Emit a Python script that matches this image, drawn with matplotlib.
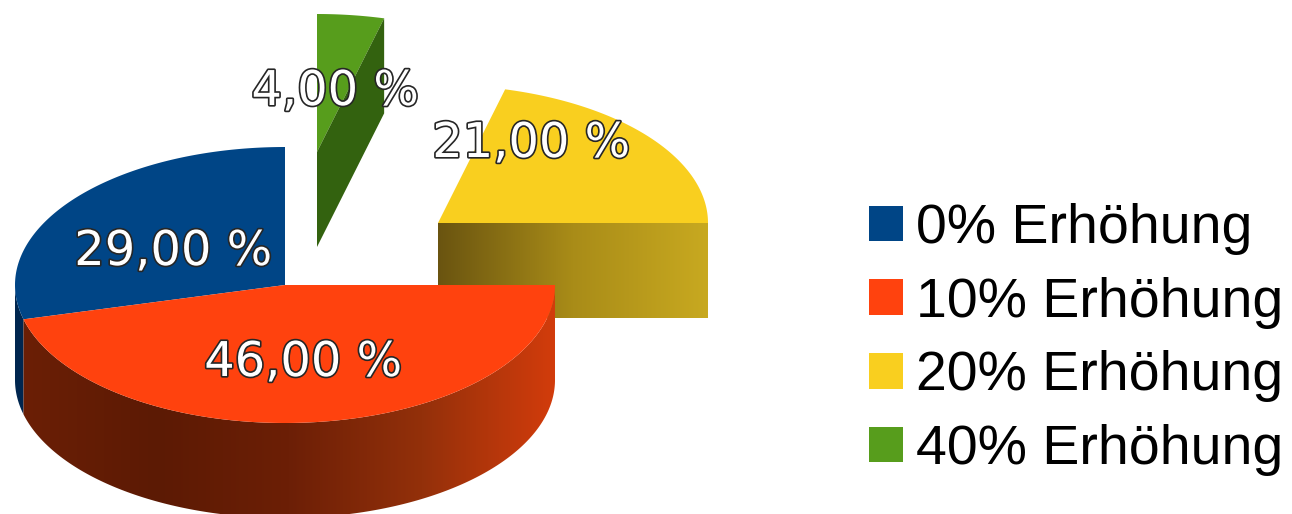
import numpy as np
import matplotlib
matplotlib.use("Agg")
import matplotlib.pyplot as plt
import matplotlib.patheffects as pe
from matplotlib.colors import LinearSegmentedColormap
from matplotlib.patches import Patch, Polygon

# Data
categories = ["0% Erhöhung", "10% Erhöhung", "20% Erhöhung", "40% Erhöhung"]
shares = [29.0, 46.0, 21.0, 4.0]
colors = ["#004586", "#ff420e", "#f9cf1f", "#579d1c"]

# Pie geometry in pixels
rx, ry = 270, 138
depth = 95
centers = [(285, 285), (285, 285), (438, 223), (317, 152)]
label_pos = [(173, 265), (303, 376), (531, 157), (335, 105)]

# slices run counter-clockwise from the top
sweep = np.array(shares) / sum(shares) * 360
starts = 90 + np.concatenate(([0], np.cumsum(sweep)[:-1]))
ends = starts + sweep


def arc(cx, cy, a0, a1, n=200):
    t = np.radians(np.linspace(a0, a1, n))
    return np.column_stack((cx + rx * np.cos(t), cy - ry * np.sin(t)))


def wedge(cx, cy, a0, a1):
    return np.vstack(([cx, cy], arc(cx, cy, a0, a1)))


def band(cx, cy, a0, a1):
    top = arc(cx, cy, a0, a1)
    bottom = top[::-1] + [0, depth]
    return np.vstack((top, bottom))


def gradient_fill(ax, verts, stops, zorder):
    cmap = LinearSegmentedColormap.from_list("side", stops)
    x0, x1 = verts[:, 0].min(), verts[:, 0].max()
    y0, y1 = verts[:, 1].min(), verts[:, 1].max()
    im = ax.imshow(np.linspace(0, 1, 256).reshape(1, -1), cmap=cmap, aspect="auto",
                   extent=(x0, x1, y1, y0), zorder=zorder)
    im.set_clip_path(Polygon(verts, closed=True, transform=ax.transData))


fig = plt.figure(figsize=(12.92, 5.14), dpi=100)
ax = fig.add_axes([0, 0, 1, 1])
ax.axis("off")

# yellow slice, front cut face then top
cx, cy = centers[2]
face = np.array([[cx, cy], [cx + rx, cy], [cx + rx, cy + depth], [cx, cy + depth]])
gradient_fill(ax, face, ["#6a5410", "#a98c18", "#c8a920"], 1)
ax.add_patch(Polygon(wedge(cx, cy, starts[2] % 360, ends[2] % 360), color=colors[2], lw=0, zorder=2))

# green slice
cx, cy = centers[3]
a = np.radians(starts[3] % 360)
edge = (cx + rx * np.cos(a), cy - ry * np.sin(a))
ax.add_patch(Polygon(wedge(cx, cy, starts[3] % 360, ends[3] % 360), color=colors[3], lw=0, zorder=2))
face = np.array([edge, (edge[0], edge[1] + depth), (cx, cy + depth), (cx, cy)])
ax.add_patch(Polygon(face, color="#33620f", lw=0, zorder=3))

# blue slice, only a sliver of its rim shows on the left
cx, cy = centers[0]
ax.add_patch(Polygon(band(cx, cy, 180, ends[0]), color="#00264f", lw=0, zorder=4))
ax.add_patch(Polygon(wedge(cx, cy, starts[0], ends[0]), color=colors[0], lw=0, zorder=5))

# orange slice with shaded rim
cx, cy = centers[1]
gradient_fill(ax, band(cx, cy, starts[1], ends[1]),
              ["#6b1f06", "#5c1a04", "#6c1f06", "#93300a", "#d23c0c"], 4)
ax.add_patch(Polygon(wedge(cx, cy, starts[1], ends[1]), color=colors[1], lw=0, zorder=5))

# value labels
outline = [pe.Stroke(linewidth=2.4, foreground="#262626"), pe.Normal()]
for value, (lx, ly) in zip(shares, label_pos):
    txt = f"{value:.2f} %".replace(".", ",")
    ax.text(lx, ly, txt, color="white", fontsize=34.5, family="DejaVu Sans",
            ha="center", va="baseline", zorder=6, path_effects=outline)

ax.set_xlim(0, 1292)
ax.set_ylim(514, 0)

handles = [Patch(facecolor=c, edgecolor="none", label=n) for c, n in zip(colors, categories)]
ax.legend(handles=handles, loc="center left", bbox_to_anchor=(869, 339.5),
          bbox_transform=ax.transData, frameon=False, borderpad=0, borderaxespad=0,
          prop={"family": "Liberation Sans", "size": 40}, handlelength=0.61, handleheight=0.61,
          handletextpad=0.24, labelspacing=0.39)

fig.savefig("out.png", dpi=100)
